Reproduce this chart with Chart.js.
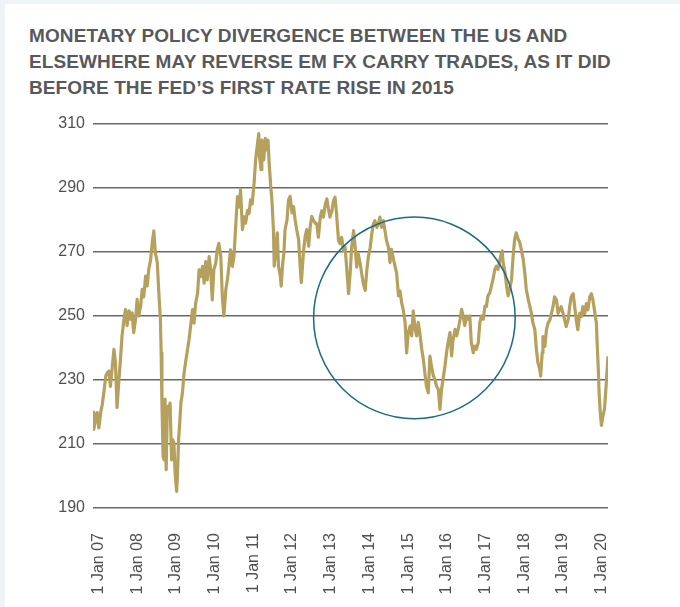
<!DOCTYPE html>
<html>
<head>
<meta charset="utf-8">
<script src="https://cdn.jsdelivr.net/npm/chart.js@4.4.1/dist/chart.umd.min.js"></script>
<style>
  html, body { margin: 0; padding: 0; }
  body { width: 680px; height: 607px; background: #eef4f6; position: relative; overflow: hidden; }
  #card { position: absolute; left: 5px; top: 4px; right: 0; bottom: 0; background: #ffffff; }
  #title { position: absolute; left: 29px; top: 23px; font-family: "Liberation Sans", Arial, sans-serif; font-weight: bold; font-size: 19px; line-height: 26px; color: #58595b; letter-spacing: 0.1px; white-space: nowrap; }
  #wrap { position: absolute; left: 0; top: 100px; width: 680px; height: 507px; }
</style>
</head>
<body>
<div id="card"></div>
<div id="title">MONETARY POLICY DIVERGENCE BETWEEN THE US AND<br>ELSEWHERE MAY REVERSE EM FX CARRY TRADES, AS IT DID<br>BEFORE THE FED’S FIRST RATE RISE IN 2015</div>
<div id="wrap"><canvas id="c" width="680" height="507"></canvas></div>
<script>
// ---- data (decimal year, index level) ----
const years = [2006.86,2006.88,2006.93,2006.97,2007.01,2007.06,2007.10,2007.14,2007.19,2007.23,2007.27,2007.31,2007.36,2007.40,2007.44,2007.48,2007.53,2007.57,2007.61,2007.66,2007.70,2007.74,2007.79,2007.83,2007.87,2007.91,2007.96,2008.00,2008.04,2008.09,2008.13,2008.17,2008.22,2008.26,2008.30,2008.35,2008.39,2008.43,2008.47,2008.52,2008.56,2008.60,2008.62,2008.64,2008.67,2008.70,2008.72,2008.75,2008.78,2008.82,2008.85,2008.89,2008.92,2008.95,2008.98,2009.02,2009.04,2009.07,2009.10,2009.13,2009.17,2009.21,2009.26,2009.30,2009.34,2009.38,2009.43,2009.47,2009.51,2009.56,2009.60,2009.64,2009.69,2009.73,2009.77,2009.81,2009.86,2009.90,2009.94,2009.98,2010.03,2010.07,2010.11,2010.16,2010.20,2010.24,2010.29,2010.33,2010.37,2010.41,2010.46,2010.50,2010.54,2010.59,2010.63,2010.67,2010.72,2010.76,2010.80,2010.85,2010.89,2010.93,2010.97,2011.02,2011.06,2011.10,2011.14,2011.16,2011.20,2011.22,2011.27,2011.31,2011.35,2011.38,2011.41,2011.45,2011.48,2011.52,2011.54,2011.58,2011.62,2011.65,2011.70,2011.72,2011.76,2011.79,2011.82,2011.87,2011.91,2011.95,2012.00,2012.04,2012.08,2012.12,2012.17,2012.21,2012.24,2012.27,2012.30,2012.34,2012.38,2012.43,2012.47,2012.51,2012.55,2012.60,2012.64,2012.68,2012.73,2012.77,2012.81,2012.86,2012.90,2012.94,2012.98,2013.03,2013.07,2013.11,2013.15,2013.20,2013.24,2013.28,2013.33,2013.37,2013.41,2013.46,2013.50,2013.54,2013.59,2013.63,2013.67,2013.71,2013.76,2013.80,2013.84,2013.89,2013.93,2013.97,2014.02,2014.06,2014.10,2014.14,2014.19,2014.23,2014.27,2014.31,2014.36,2014.40,2014.44,2014.49,2014.53,2014.57,2014.62,2014.66,2014.70,2014.75,2014.79,2014.83,2014.87,2014.92,2014.96,2015.00,2015.05,2015.09,2015.13,2015.18,2015.22,2015.26,2015.30,2015.35,2015.39,2015.43,2015.47,2015.52,2015.56,2015.60,2015.65,2015.69,2015.73,2015.78,2015.82,2015.86,2015.90,2015.95,2015.99,2016.03,2016.08,2016.12,2016.16,2016.21,2016.25,2016.29,2016.34,2016.38,2016.42,2016.46,2016.51,2016.55,2016.59,2016.63,2016.68,2016.72,2016.76,2016.81,2016.85,2016.89,2016.94,2016.98,2017.02,2017.06,2017.11,2017.15,2017.19,2017.24,2017.28,2017.32,2017.37,2017.41,2017.43,2017.45,2017.50,2017.54,2017.58,2017.62,2017.67,2017.71,2017.75,2017.79,2017.84,2017.88,2017.92,2017.97,2018.01,2018.05,2018.10,2018.14,2018.18,2018.22,2018.27,2018.31,2018.35,2018.40,2018.42,2018.46,2018.48,2018.53,2018.57,2018.61,2018.66,2018.70,2018.74,2018.78,2018.83,2018.87,2018.91,2018.95,2019.00,2019.04,2019.08,2019.13,2019.17,2019.21,2019.26,2019.30,2019.34,2019.38,2019.43,2019.47,2019.51,2019.56,2019.60,2019.64,2019.69,2019.73,2019.77,2019.81,2019.86,2019.88,2019.91,2019.93,2019.96,2019.99,2020.03,2020.07,2020.11,2020.16];
const values = [220,214.6,217.7,219.8,215,220,222.4,226,231.3,232.3,232.8,228,234.4,239.6,235.4,221.4,230.2,236.5,243.8,249,252,247,251.6,249,251,244.8,249,255.2,250,253,258.3,256,262.5,259.4,264.6,267.7,273,276.6,269.8,266.7,257.3,249,238.5,223,206,205,224,202,221.8,220.7,222.8,205,211.3,210.3,201,195.2,200,211.3,216.6,222.8,226,232,236.3,239.4,242.6,246.7,252,247.8,254,257,264.4,262.3,265.5,260.3,267,261.3,268.6,264.4,255,264.4,266.5,270.7,272.7,268.6,256,250,258.2,261.3,265.5,270.7,265.5,268.6,277,287.3,284,289.4,277,281,279,283,282,286.3,285,291.5,298.8,303,307,299.8,295.7,305,298.8,305.5,301.9,305,297.7,290.5,286.3,277,265.6,270.7,276,265.6,262.4,259.3,266.6,269.7,277,280,286.3,287.4,282.2,284.2,280,277,273.9,265.6,260.4,265.6,270.7,274.9,277,271.8,278,281.1,280,279,278.8,274.6,280.9,282.9,280.9,285,286.6,283.5,280.9,282.9,286,287.1,281.9,273.6,272.6,274.6,270.5,271.5,265.3,257,263.2,271.5,276.7,271.5,265.3,269.4,266.3,263.2,260.1,258,264.2,268.4,271.5,275.7,278.8,279.8,277.7,278.8,280.9,277.7,279.8,276.7,273.6,271.5,266.7,270.8,267.7,265.6,263.5,256.3,257.8,254.2,252.1,248,238.5,244.8,246.9,243.8,251.6,245.8,243.8,248,244.8,239.6,236.5,232.3,228.1,226,237.5,234.4,231.3,230.2,228.1,227,220.8,227,230.2,234.4,238.5,241.7,244.8,237.5,242.7,245.8,243.8,245.8,249,252.1,250,247,250,249,250,241.7,238.5,240.6,239.6,241.7,247.9,250,249,253,253,256.3,257.3,259.4,261.5,264.6,265.6,264.6,267.7,269.8,270.3,266.7,263.5,259.4,256.3,258.3,261.5,268.8,274,276,274,273,270.8,267.7,263.5,258.3,255.2,253.1,251,247.9,245.8,239.6,235.4,233.3,231.2,238.5,243.6,240.5,245.7,247.7,248.8,250.8,252.9,256,255,250.8,251.9,252.9,250.8,248.8,246.7,248.8,252.9,256,257,252.9,248.8,245.7,250.8,249.8,252.9,250.8,253.9,251.9,256,257,255,251.9,247.7,241.5,233.3,226,219.9,215.8,218.9,220.9,228.1,237.4];
const tickYears = [2007,2008,2009,2010,2011,2012,2013,2014,2015,2016,2017,2018,2019,2020];
const tickLabels = ['1 Jan 07','1 Jan 08','1 Jan 09','1 Jan 10','1 Jan 11','1 Jan 12','1 Jan 13','1 Jan 14','1 Jan 15','1 Jan 16','1 Jan 17','1 Jan 18','1 Jan 19','1 Jan 20'];
const yTicks = [190,210,230,250,270,290,310];
// highlighted period (circle annotation), in data units
const noteYear = 2015.16, noteValue = 249.4, noteRadius = 31.5;

const circlePlugin = {
  id: 'circleNote',
  afterDatasetsDraw(chart) {
    const {ctx, scales: {x, y}} = chart;
    const cx = x.getPixelForValue(noteYear);
    const cy = y.getPixelForValue(noteValue);
    const r = Math.abs(y.getPixelForValue(noteValue - noteRadius) - cy);
    ctx.save();
    ctx.beginPath();
    ctx.arc(cx, cy, r, 0, Math.PI * 2);
    ctx.strokeStyle = '#1b6a80';
    ctx.lineWidth = 1.5;
    ctx.stroke();
    ctx.restore();
  }
};

const font = { family: '"Liberation Sans", Arial, sans-serif', size: 16 };
new Chart(document.getElementById('c'), {
  type: 'line',
  data: {
    datasets: [{
      data: years.map((yr, i) => ({ x: yr, y: values[i] })),
      borderColor: '#b6a05e',
      borderWidth: 3.2,
      pointRadius: 0,
      tension: 0,
      fill: false,
      borderJoinStyle: 'round'
    }]
  },
  options: {
    responsive: false,
    animation: false,
    devicePixelRatio: 1,
    layout: { padding: { left: 0, right: 72, top: 24, bottom: 0 } },
    plugins: { legend: { display: false }, tooltip: { enabled: false }, title: { display: false } },
    scales: {
      x: {
        type: 'linear',
        min: 2006.86,
        max: 2020.16,
        afterBuildTicks: s => { s.ticks = tickYears.map(v => ({ value: v })); },
        afterFit: s => { s.height = 99; },
        grid: { display: false },
        border: { display: false },
        ticks: {
          autoSkip: false, minRotation: 90, maxRotation: 90, padding: 17,
          color: '#505052', font,
          callback: v => tickLabels[tickYears.indexOf(v)]
        }
      },
      y: {
        min: 190,
        max: 310,
        afterBuildTicks: s => { s.ticks = yTicks.map(v => ({ value: v })); },
        afterFit: s => { s.width = 93; },
        grid: { color: '#686868', lineWidth: 1.4, drawTicks: false },
        border: { display: false },
        ticks: { padding: 8, color: '#505052', font }
      }
    }
  },
  plugins: [circlePlugin]
});
</script>
</body>
</html>
